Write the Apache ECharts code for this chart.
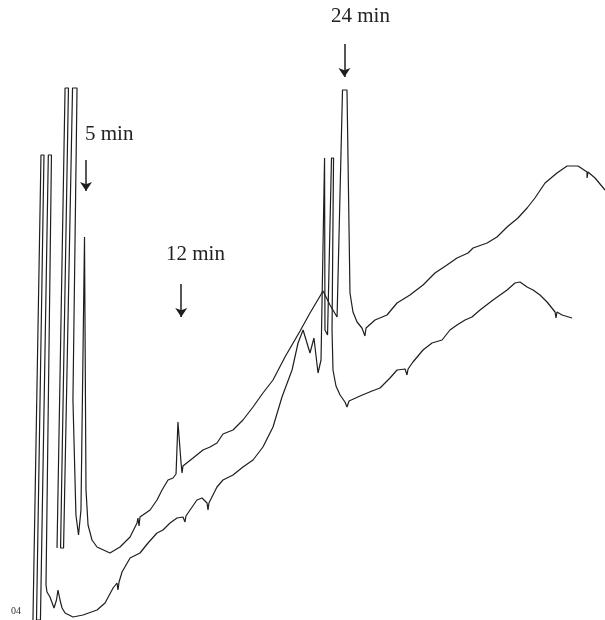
<!DOCTYPE html>
<html>
<head>
<meta charset="utf-8">
<script src="https://cdn.jsdelivr.net/npm/echarts@6/dist/echarts.min.js"></script>
<style>
  html, body { margin: 0; padding: 0; background: #ffffff; }
  #chart { width: 605px; height: 620px; }
</style>
</head>
<body>
<div id="chart"></div>
<script>
// Retention time (min) and detector response (arbitrary units).
// Pen-recorder strokes lean slightly, so some consecutive times step backwards.
var upperTrace = [
  [2.87, 7.2], [3.46, 53.2], [3.71, 53.2], [3.13, 7.2], [3.35, 7.2], [4.01, 53.2], [4.34, 53.2],
  [4.04, 22.0], [4.26, 10.5], [4.45, 8.5], [4.63, 11.0], [4.89, 38.3], [5.00, 38.3], [5.00, 13.0],
  [5.15, 9.5], [5.44, 8.0], [5.81, 7.3], [6.76, 6.7], [7.50, 7.3], [8.24, 8.3], [8.75, 9.7],
  [8.82, 10.2], [8.90, 9.4], [8.97, 10.3], [9.71, 11.0], [10.22, 12.0], [10.59, 13.0], [11.03, 14.0],
  [11.40, 14.2], [11.62, 14.6], [11.76, 19.8], [11.99, 15.7], [12.06, 14.7], [12.13, 15.4],
  [12.87, 16.2], [13.60, 17.0], [14.12, 17.3], [14.63, 17.7], [15.07, 18.6], [15.81, 19.0],
  [16.54, 20.0], [17.28, 21.3], [18.01, 22.7], [18.75, 24.0], [19.63, 26.3], [20.74, 28.9],
  [21.47, 30.7], [22.43, 32.9], [22.94, 31.5], [23.46, 30.3], [23.86, 53.0], [24.19, 53.0],
  [24.41, 32.7], [24.63, 30.8], [24.93, 29.8], [25.29, 29.2], [25.51, 28.4], [25.59, 29.2],
  [26.25, 30.0], [27.13, 30.5], [27.87, 31.7], [28.82, 32.5], [29.78, 33.5], [30.66, 34.7],
  [31.54, 35.5], [32.28, 36.2], [33.09, 36.7], [33.46, 37.2], [34.49, 37.7], [35.22, 38.3],
  [35.96, 39.3], [36.76, 40.2], [37.43, 41.2], [38.01, 42.2], [38.75, 43.7], [39.63, 44.7],
  [40.37, 45.4], [41.18, 45.4], [41.84, 44.8], [41.84, 44.2], [41.91, 44.8], [42.43, 44.2],
  [43.16, 43.0]
];

var lowerTrace = [
  [1.10, 0.0], [1.69, 46.5], [1.91, 46.5], [1.36, 0.0], [1.65, 0.0], [2.23, 46.5], [2.46, 46.5],
  [2.06, 3.5], [2.13, 2.8], [2.35, 2.3], [2.65, 1.2], [2.83, 2.0], [2.94, 3.0], [3.09, 2.0],
  [3.24, 1.2], [3.46, 0.7], [4.04, 0.3], [4.78, 0.5], [5.81, 1.0], [6.40, 1.7], [6.99, 3.2],
  [7.28, 3.7], [7.35, 3.0], [7.43, 3.8], [7.65, 4.8], [8.24, 6.2], [8.97, 6.7], [9.56, 7.7],
  [10.22, 8.7], [10.66, 9.0], [11.18, 9.7], [11.69, 10.2], [12.13, 10.3], [12.28, 9.8],
  [12.35, 10.4], [12.65, 11.0], [13.16, 12.0], [13.53, 12.2], [13.90, 11.7], [13.97, 11.0],
  [14.04, 11.7], [14.26, 12.3], [14.63, 13.3], [15.07, 14.0], [15.81, 14.5], [16.54, 15.3],
  [17.28, 16.0], [18.01, 17.3], [18.75, 19.3], [19.41, 22.3], [20.15, 25.0], [20.59, 27.7],
  [20.96, 29.0], [21.10, 29.2], [21.47, 26.7], [21.76, 28.2], [22.06, 24.7], [22.28, 26.0],
  [22.54, 46.2], [22.68, 46.2], [22.57, 29.0], [22.76, 28.5], [23.05, 46.2], [23.20, 46.2],
  [23.09, 29.0], [23.16, 25.0], [23.38, 23.4], [23.68, 22.5], [24.04, 21.8], [24.19, 21.3],
  [24.34, 21.9], [25.15, 22.4], [26.03, 22.9], [26.62, 23.2], [27.35, 24.2], [27.87, 25.0],
  [28.46, 25.1], [28.60, 24.5], [28.68, 25.1], [29.04, 25.8], [29.78, 27.0], [30.44, 27.7],
  [31.18, 28.0], [31.76, 29.0], [32.28, 29.5], [32.87, 30.0], [33.38, 30.3], [33.97, 31.0],
  [34.93, 32.0], [35.96, 33.0], [36.54, 33.7], [36.91, 33.8], [37.43, 33.3], [37.87, 33.0],
  [38.38, 32.5], [38.90, 31.8], [39.49, 30.8], [39.56, 30.2], [39.63, 30.8], [40.00, 30.5],
  [40.74, 30.2]
];

// Annotated retention times (min) and the response range of their arrows.
var markerTimes = [5, 12, 24];
var markerLabels = ['5 min', '12 min', '24 min'];
var markerArrowFrom = [46.0, 33.6, 57.6];
var markerArrowTo = [42.9, 30.3, 54.3];

var ink = '#1e1e1e';
var chart = echarts.init(document.getElementById('chart'), null, { renderer: 'canvas' });

var arrowData = markerTimes.map(function (t, i) {
  return [{ coord: [t, markerArrowFrom[i]] }, { coord: [t, markerArrowTo[i]] }];
});

var labelPos = [
  { left: 85, top: 124 },
  { left: 166, top: 244 },
  { left: 331, top: 6 }
];

chart.setOption({
  backgroundColor: '#ffffff',
  animation: false,
  grid: { left: 18, right: 0, top: 0, bottom: 0, containLabel: false },
  xAxis: { type: 'value', min: 0, max: 43.16, show: false },
  yAxis: { type: 'value', min: 0, max: 62, show: false },
  series: [
    {
      name: 'Trace 1',
      type: 'line',
      data: upperTrace,
      showSymbol: false,
      symbol: 'none',
      smooth: false,
      clip: true,
      lineStyle: { color: ink, width: 1.2 },
      markLine: {
        silent: true,
        symbol: ['none', 'arrow'],
        symbolSize: 9,
        precision: 2,
        label: { show: false },
        lineStyle: { color: ink, width: 1.5, type: 'solid' },
        itemStyle: { color: ink },
        data: arrowData
      }
    },
    {
      name: 'Trace 2',
      type: 'line',
      data: lowerTrace,
      showSymbol: false,
      symbol: 'none',
      smooth: false,
      clip: true,
      lineStyle: { color: ink, width: 1.2 }
    }
  ],
  graphic: markerLabels.map(function (txt, i) {
    return {
      type: 'text',
      left: labelPos[i].left,
      top: labelPos[i].top,
      style: { text: txt, fill: '#222', font: '21px "Liberation Serif", "DejaVu Serif", serif' }
    };
  }).concat([{
    type: 'text', left: 11, top: 606,
    style: { text: '04', fill: '#333', font: '10px "Liberation Serif", serif' }
  }])
});
</script>
</body>
</html>
